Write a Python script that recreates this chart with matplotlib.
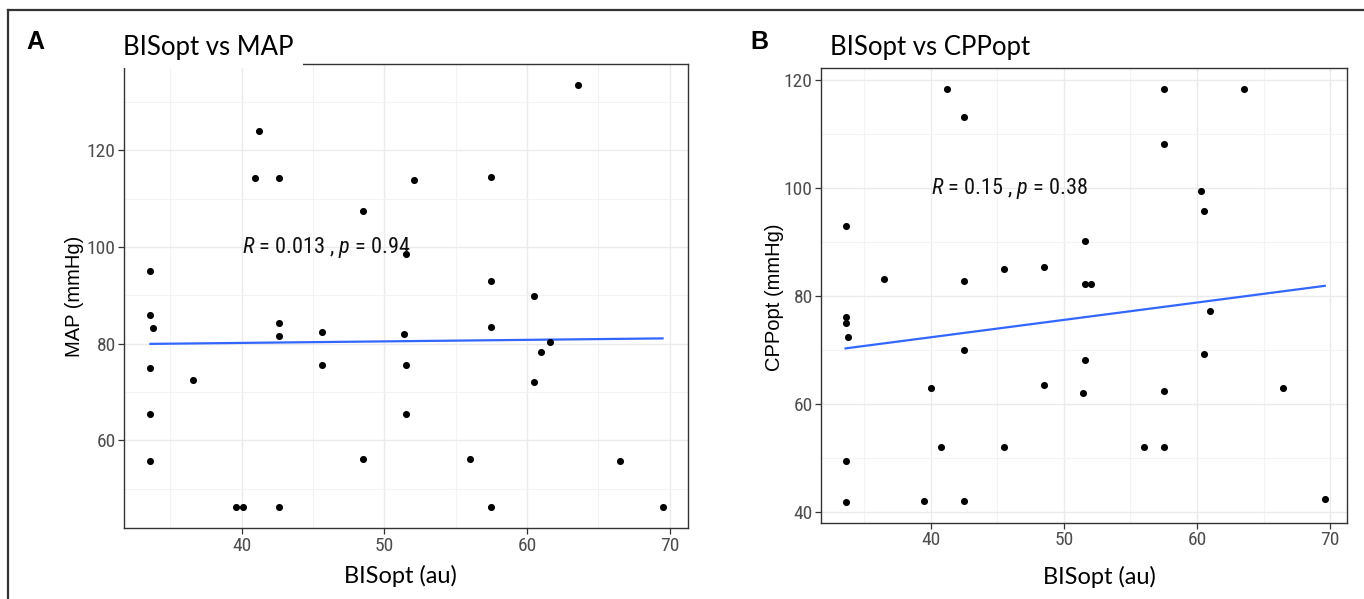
"""
BISopt vs MAP / BISopt vs CPPopt scatter panels with linear fit.
Writes out.png
"""
import numpy as np
import matplotlib
matplotlib.use("Agg")
import matplotlib.pyplot as plt
from matplotlib import font_manager
from matplotlib.font_manager import FontProperties
from matplotlib.patches import Rectangle
from matplotlib.lines import Line2D

# panel A: BISopt vs MAP
bis_a = [33.6, 33.6, 33.8, 33.6, 33.6, 33.6, 36.6, 39.6, 40.1, 40.9, 41.2,
         42.6, 42.6, 42.6, 42.6, 45.6, 45.6, 48.5, 48.5, 51.5, 51.4, 51.5,
         51.5, 52.1, 56.0, 57.5, 57.5, 57.5, 57.5, 60.5, 60.5, 61.0, 61.6,
         63.6, 66.5, 69.5]
map_a = [95.0, 85.9, 83.2, 75.0, 65.5, 55.7, 72.4, 46.2, 46.2, 114.3, 124.0,
         114.3, 84.3, 81.6, 46.2, 82.4, 75.5, 107.4, 56.1, 98.5, 82.1, 75.5,
         65.5, 113.8, 56.1, 114.6, 92.9, 83.5, 46.2, 89.8, 72.1, 78.2, 80.3,
         133.6, 55.7, 46.2]

# panel B: BISopt vs CPPopt
bis_b = [33.6, 33.6, 33.6, 33.8, 33.6, 33.6, 36.5, 39.5, 40.0, 40.8, 41.2,
         42.5, 42.5, 42.5, 42.5, 45.5, 45.5, 48.5, 48.5, 51.6, 51.6, 51.6,
         51.4, 52.0, 56.0, 57.5, 57.5, 57.5, 57.5, 60.3, 60.5, 60.5, 61.0,
         63.5, 66.5, 69.6]
cpp_b = [93.0, 76.0, 74.9, 72.3, 49.4, 41.8, 83.2, 41.9, 63.0, 51.9, 118.3,
         113.2, 82.8, 70.0, 41.9, 84.9, 51.9, 85.4, 63.5, 90.2, 82.2, 68.2,
         62.0, 82.2, 51.9, 118.3, 108.2, 62.3, 51.9, 99.5, 95.7, 69.2, 77.2,
         118.3, 63.0, 42.3]

labels_a = "$\\it{R}$ = 0.013 , $\\it{p}$ = 0.94"
labels_b = "$\\it{R}$ = 0.15 , $\\it{p}$ = 0.38"

W, H = 1364, 599
TITLE_FONT = ["Lato", "DejaVu Sans"]
GRID = "#ebebeb"
TICK_GREY = "#4d4d4d"
BORDER = "#333333"

# pick a condensed sans for tick labels / stat label (Arial Narrow look)
ttf = font_manager.fontManager.ttflist
names = {f.name for f in ttf}
narrow = next((n for n in ["Liberation Sans Narrow", "Arial Narrow",
                           "Roboto Condensed", "Open Sans Condensed"]
               if n in names), None)
if narrow:
    NARROW = dict(family=narrow)
    it_pattern = narrow + ":italic"
elif any(f.name == "DejaVu Sans" and f.stretch == "condensed" for f in ttf):
    NARROW = dict(family="DejaVu Sans", stretch="condensed")
    it_pattern = "DejaVu Sans:italic:condensed"
else:
    NARROW = dict(family="Liberation Sans")
    it_pattern = "Liberation Sans:italic"

plt.rcParams["mathtext.fontset"] = "custom"
plt.rcParams["mathtext.it"] = it_pattern
plt.rcParams["mathtext.rm"] = it_pattern.replace(":italic", "")


def px_rect(left, top, right, bottom):
    return [left / W, 1 - bottom / H, (right - left) / W, (bottom - top) / H]


def draw_panel(ax, x, y, label, yticks, yminor, ylim):
    ax.set_xlim(31.75, 71.25)
    ax.set_ylim(*ylim)
    ax.set_xticks([40, 50, 60, 70])
    ax.set_xticks([35, 45, 55, 65], minor=True)
    ax.set_yticks(yticks)
    ax.set_yticks(yminor, minor=True)
    ax.grid(True, which="major", color=GRID, lw=1.0, zorder=0)
    ax.grid(True, which="minor", color="#f3f3f3", lw=0.8, zorder=0)
    ax.set_axisbelow(True)
    ax.tick_params(which="minor", length=0)
    ax.tick_params(which="major", length=4, width=0.9, color=BORDER,
                   labelcolor=TICK_GREY, pad=2)
    tick_fp = FontProperties(size=14, **NARROW)
    for t in ax.get_xticklabels() + ax.get_yticklabels():
        t.set_fontproperties(tick_fp)
    for s in ax.spines.values():
        s.set_color(BORDER)
        s.set_linewidth(1.0)

    ax.scatter(x, y, s=26, color="black", zorder=3, linewidths=0)

    # linear fit (geom_smooth method = lm)
    slope, icpt = np.polyfit(x, y, 1)
    xs = np.array([min(x), max(x)])
    ax.plot(xs, icpt + slope * xs, color="#3366ff", lw=1.6, zorder=2)

    ax.text(40, 100, label, ha="left", va="center", color="#111111", zorder=4,
            fontproperties=FontProperties(size=16, **NARROW))


fig = plt.figure(figsize=(W / 100, H / 100), dpi=100)

ax_a = fig.add_axes(px_rect(124, 63.5, 687.5, 528.3))
draw_panel(ax_a, bis_a, map_a, labels_a,
           [60, 80, 100, 120], [50, 70, 90, 110, 130], (41.8, 138.0))

ax_b = fig.add_axes(px_rect(821, 68.3, 1346.7, 523))
draw_panel(ax_b, bis_b, cpp_b, labels_b,
           [40, 60, 80, 100, 120], [50, 70, 90, 110], (37.9, 122.2))

# white patch behind panel A title (covers top-left of the frame)
fig.patches.append(Rectangle((112 / W, 1 - 68 / H), 191 / W, 50 / H,
                             transform=fig.transFigure, facecolor="white",
                             edgecolor="none", zorder=5))

# titles and panel letters
fig.text(123 / W, 1 - 55 / H, "BISopt vs MAP", fontsize=18.5, family=TITLE_FONT,
         ha="left", va="baseline", zorder=6)
fig.text(830 / W, 1 - 55 / H, "BISopt vs CPPopt", fontsize=18.5, family=TITLE_FONT,
         ha="left", va="baseline", zorder=6)
fig.text(26 / W, 1 - 49 / H, "A", fontsize=18, fontweight="bold",
         family=["Liberation Sans", "DejaVu Sans"], ha="left", va="baseline")
fig.text(750 / W, 1 - 49 / H, "B", fontsize=18, fontweight="bold",
         family=["Liberation Sans", "DejaVu Sans"], ha="left", va="baseline")

# axis labels
fig.text(400 / W, 1 - 576 / H, "BISopt (au)", fontsize=17, family=TITLE_FONT,
         ha="center", va="center")
fig.text(1099 / W, 1 - 577 / H, "BISopt (au)", fontsize=17, family=TITLE_FONT,
         ha="center", va="center")
fig.text(75 / W, 1 - 296 / H, "MAP (mmHg)", fontsize=14.5, rotation=90,
         family=["Liberation Sans", "DejaVu Sans"], ha="center", va="center")
fig.text(774 / W, 1 - 297 / H, "CPPopt (mmHg)", fontsize=14.5, rotation=90,
         family=["Liberation Sans", "DejaVu Sans"], ha="center", va="center")

# outer frame (top and left edges)
fig.lines.append(Line2D([8 / W, 1], [1 - 10 / H, 1 - 10 / H],
                        transform=fig.transFigure, color=BORDER, lw=1.6))
fig.lines.append(Line2D([8 / W, 8 / W], [0, 1 - 10 / H],
                        transform=fig.transFigure, color=BORDER, lw=1.6))

fig.savefig("out.png", dpi=100)
